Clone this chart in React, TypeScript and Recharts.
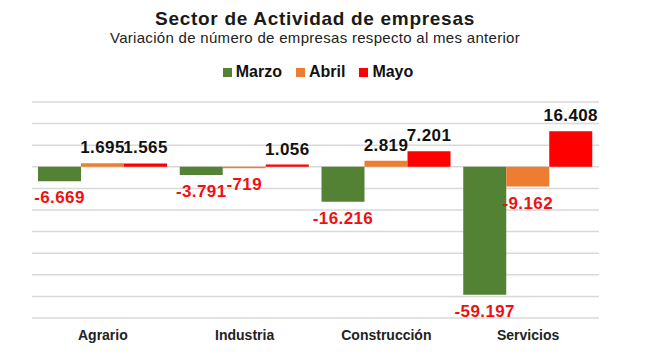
import React from "react";
import { Bar, BarChart, CartesianGrid, LabelList, XAxis, YAxis } from "recharts";

const sectors = ["Agrario", "Industria", "Construcción", "Servicios"];
const marzo = [-6669, -3791, -16216, -59197];
const abril = [1695, -719, 2819, -9162];
const mayo = [1565, 1056, 7201, 16408];
const seriesNames = ["Marzo", "Abril", "Mayo"];
const seriesColors = ["#548235", "#ed7d31", "#ff0000"];
const yTicks = [-70000, -60000, -50000, -40000, -30000, -20000, -10000, 0, 10000, 20000, 30000];

const data = sectors.map((s, i) => ({ sector: s, Marzo: marzo[i], Abril: abril[i], Mayo: mayo[i] }));

const font = '"Liberation Sans", Arial, sans-serif';

// spanish style thousands: 16408 -> 16.408
const fmt = (v: number) => {
  const s = String(Math.abs(v)).replace(/\B(?=(\d{3})+(?!\d))/g, ".");
  return v < 0 ? "-" + s : s;
};

function ValueLabel(props: any) {
  const { x, y, width, height, value } = props;
  const top = Math.min(y, y + height);
  const bottom = Math.max(y, y + height);
  const neg = value < 0;
  return (
    <text
      x={x + width / 2}
      y={neg ? bottom + 22 : top - 10}
      textAnchor="middle"
      fontFamily={font}
      fontWeight="bold"
      fontSize={17}
      letterSpacing={0.4}
      fill={neg ? "#ee1111" : "#111"}
    >
      {fmt(value)}
    </text>
  );
}

export default function App() {
  return (
    <div
      style={{
        position: "absolute",
        left: 0,
        top: 0,
        width: 650,
        height: 356,
        background: "#fff",
        fontFamily: font,
      }}
    >
      <div
        style={{
          position: "absolute",
          top: 9,
          width: 630,
          textAlign: "center",
          fontSize: 19,
          lineHeight: "19px",
          letterSpacing: 0.7,
          fontWeight: "bold",
          color: "#1a1a1a",
        }}
      >
        Sector de Actividad de empresas
      </div>
      <div
        style={{
          position: "absolute",
          top: 30,
          width: 630,
          textAlign: "center",
          fontSize: 15,
          lineHeight: "15px",
          letterSpacing: 0.3,
          color: "#222",
        }}
      >
        Variación de número de empresas respecto al mes anterior
      </div>
      <div
        style={{
          position: "absolute",
          top: 64,
          width: 636,
          display: "flex",
          justifyContent: "center",
          gap: 14,
          fontSize: 16,
          lineHeight: "16px",
          fontWeight: "bold",
          color: "#111",
        }}
      >
        {seriesNames.map((n, i) => (
          <span key={n} style={{ display: "flex", alignItems: "center", gap: 4 }}>
            <span style={{ width: 9, height: 9, background: seriesColors[i], display: "inline-block" }} />
            {n}
          </span>
        ))}
      </div>
      <BarChart
        width={650}
        height={356}
        data={data}
        margin={{ top: 102, right: 51, left: 32, bottom: 8 }}
        barCategoryGap={6}
        barGap={0}
      >
        <CartesianGrid vertical={false} stroke="#d9d9d9" strokeWidth={1.5} />
        <XAxis
          dataKey="sector"
          axisLine={false}
          tickLine={false}
          tickMargin={6}
          height={30}
          tick={{ fontFamily: font, fontSize: 14, fontWeight: "bold", fill: "#222" }}
        />
        <YAxis hide type="number" domain={[-70000, 30000]} ticks={yTicks} interval={0} />
        {seriesNames.map((n, i) => (
          <Bar key={n} dataKey={n} fill={seriesColors[i]} isAnimationActive={false}>
            <LabelList dataKey={n} content={ValueLabel} />
          </Bar>
        ))}
      </BarChart>
    </div>
  );
}
